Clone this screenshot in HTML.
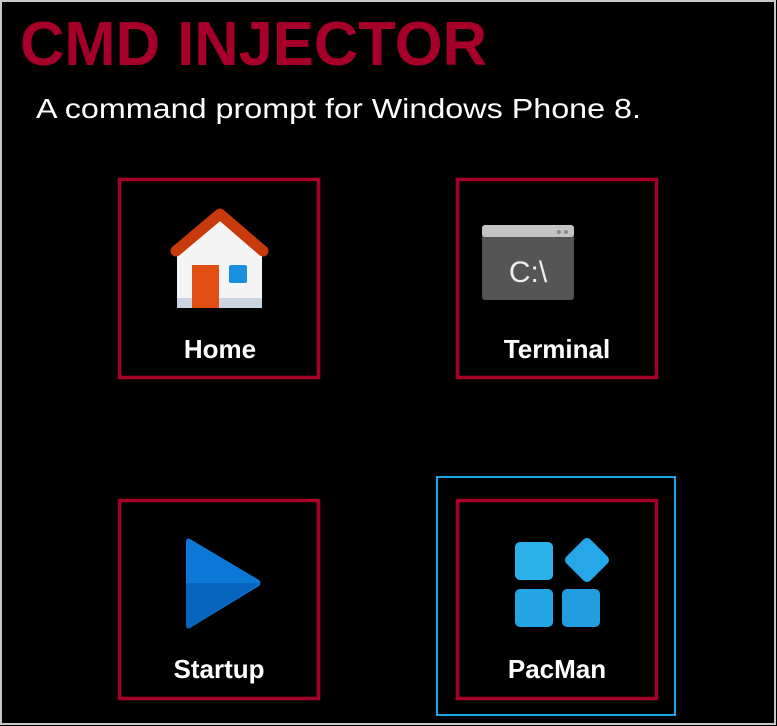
<!DOCTYPE html>
<html><head><style>
html,body{margin:0;padding:0;background:#000;}
svg{display:block;}
</style></head><body>
<svg width="777" height="726" xmlns="http://www.w3.org/2000/svg" font-family="Liberation Sans, sans-serif">
<rect x="0" y="0" width="777" height="726" fill="#000"/>
<rect x="1" y="1" width="774" height="723" fill="none" stroke="#c8c8c8" stroke-width="2"/>
<text x="20" y="65" font-size="62" font-weight="bold" fill="#a6002a" textLength="467" lengthAdjust="spacingAndGlyphs">CMD INJECTOR</text>
<text x="36" y="118" font-size="28" fill="#fff" textLength="605" lengthAdjust="spacingAndGlyphs">A command prompt for Windows Phone 8.</text>
<g fill="none" stroke="#a6002a" stroke-width="3.5">
<rect x="119.5" y="179.5" width="199" height="198"/>
<rect x="457.5" y="179.5" width="199" height="198"/>
<rect x="119.5" y="500.5" width="199" height="198"/>
<rect x="457.5" y="500.5" width="199" height="198"/>
</g>
<rect x="437" y="477" width="238" height="238" fill="none" stroke="#1aa7e6" stroke-width="2"/>
<!-- home -->
<polygon points="177,252 220,218 262,252 262,304 177,304" fill="#f4f4f4"/>
<rect x="177" y="250" width="85" height="58" rx="3" fill="#f4f4f4"/>
<rect x="177" y="298" width="85" height="10" fill="#c9d4e0"/>
<polyline points="176,251 220,214 263,251" fill="none" stroke="#c83a0c" stroke-width="11" stroke-linejoin="round" stroke-linecap="round"/>
<rect x="192" y="265" width="27" height="43" fill="#e04e12"/>
<rect x="229" y="265" width="18" height="18" rx="2" fill="#1a8fe0"/>
<!-- terminal -->
<rect x="482" y="225" width="92" height="75" rx="3" fill="#555"/>
<rect x="482" y="225" width="92" height="12" rx="3" fill="#c4c4c4"/>
<circle cx="559" cy="232" r="2" fill="#888"/><circle cx="566" cy="232" r="2" fill="#888"/>
<text x="528" y="282" font-size="30" fill="#eee" text-anchor="middle">C:\</text>
<!-- play -->
<path d="M190,539 L259,580 Q262,583 259,586 L190,628 Q186,630 186,624 L186,543 Q186,537 190,539 Z" fill="#0a78d4"/>
<path d="M186,583 L261,583 L190,628 Q186,630 186,624 Z" fill="#0665be"/>
<!-- pacman apps -->
<rect x="515" y="542" width="38" height="38" rx="5" fill="#2bb0ea"/>
<rect x="515" y="589" width="38" height="38" rx="5" fill="#24a6e6"/>
<rect x="562" y="589" width="38" height="38" rx="5" fill="#229ee0"/>
<rect x="570" y="543" width="34" height="34" rx="5" fill="#26a8e8" transform="rotate(45 587 560)"/>
<g font-size="26" font-weight="bold" fill="#fff" text-anchor="middle">
<text x="220" y="358">Home</text>
<text x="557" y="358">Terminal</text>
<text x="219" y="678">Startup</text>
<text x="557" y="678">PacMan</text>
</g>
</svg>
</body></html>
